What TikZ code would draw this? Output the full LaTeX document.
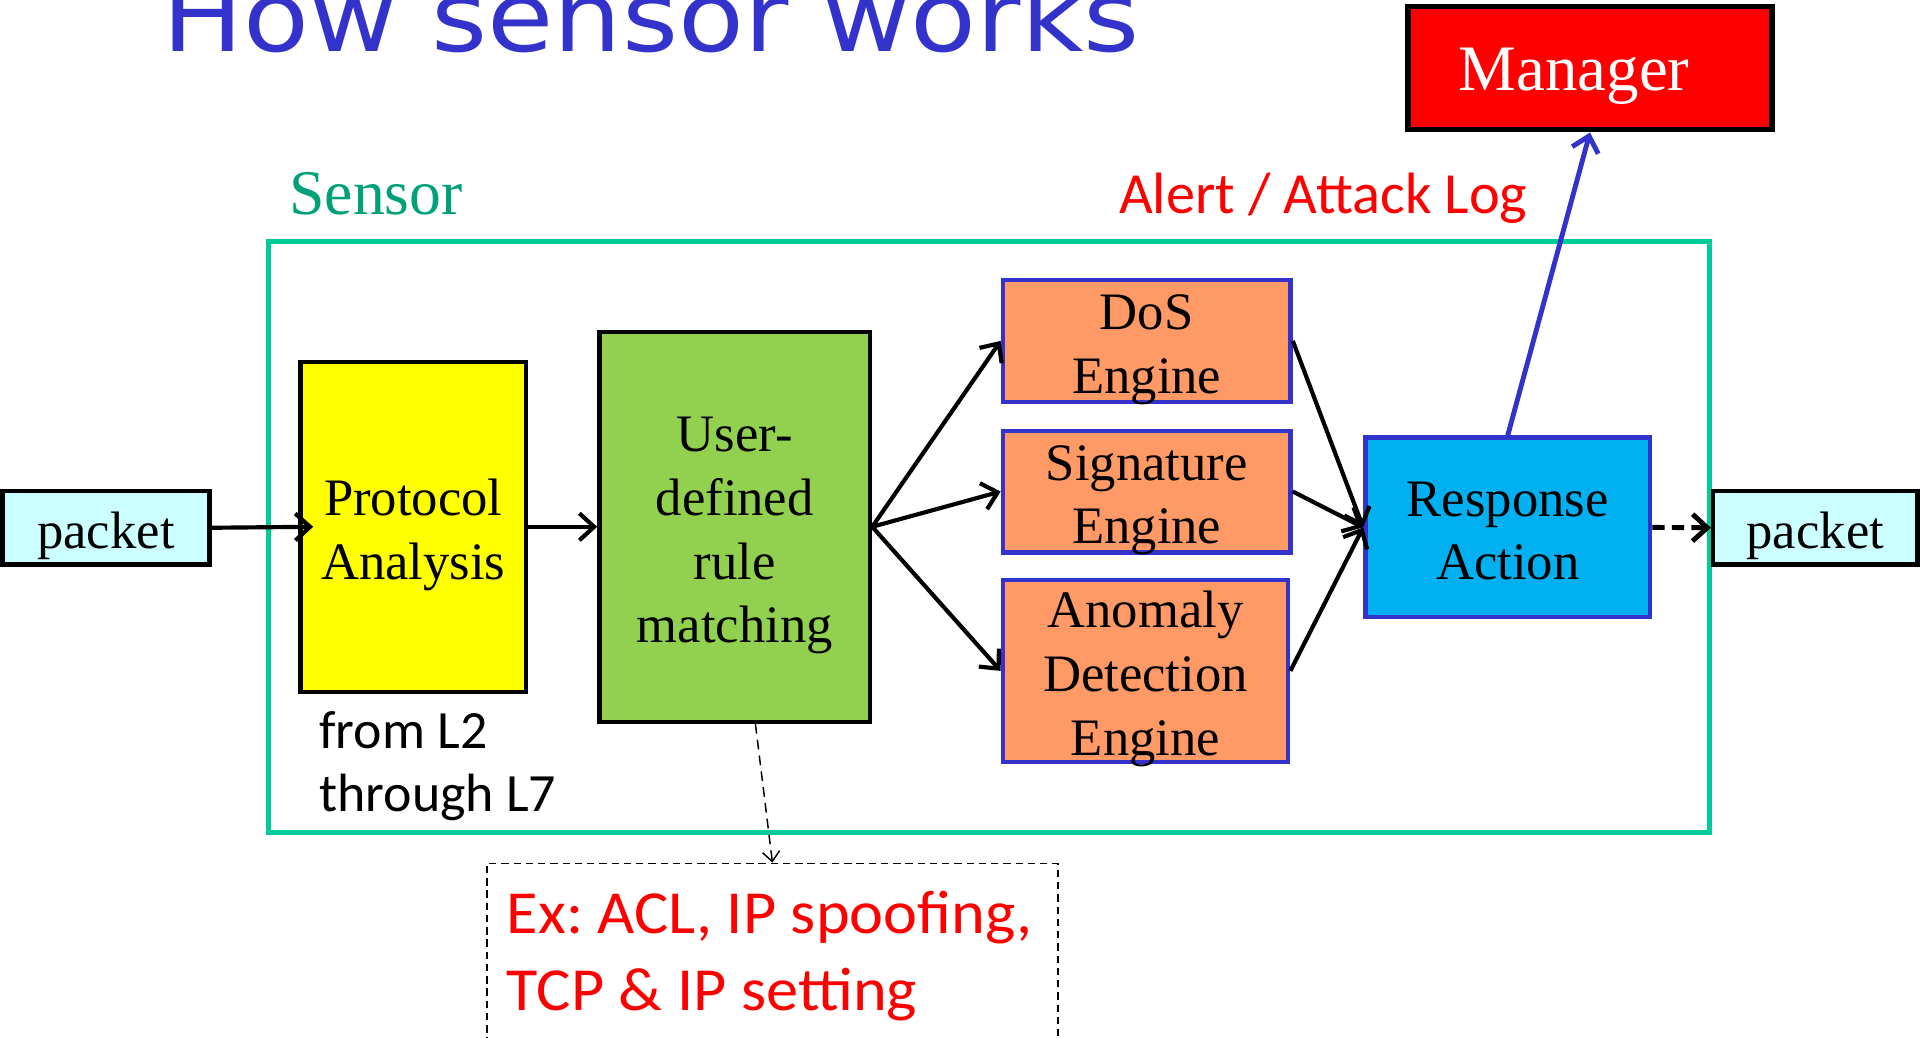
\documentclass[tikz,border=0pt]{standalone}
\usepackage{fontspec}
\setmainfont{Liberation Serif}
\newfontfamily\calibfont{Carlito}
\newfontfamily\widecalibfont{Carlito}[FakeStretch=1.05]
\newfontfamily\headfont{DejaVu Sans}[FakeStretch=1.1]
\usetikzlibrary{arrows.meta}
\frenchspacing

\definecolor{frameteal}{RGB}{0,204,153}
\definecolor{sensorteal}{RGB}{0,160,120}
\definecolor{headblue}{RGB}{51,51,204}
\definecolor{engorange}{RGB}{255,153,102}
\definecolor{rulegreen}{RGB}{146,208,80}
\definecolor{respcyan}{RGB}{0,176,240}
\definecolor{pktcyan}{RGB}{204,255,255}
\definecolor{boxyellow}{RGB}{255,255,0}

% centred lines of box text, lowered a little inside the box
\newcommand\boxlines[1]{\raisebox{-3.2pt}[\height][\depth]{%
  \begin{tabular}{@{}c@{}}#1\end{tabular}}}

\begin{document}
\begin{tikzpicture}[x=0.5pt,y=-0.5pt,
  blk/.style={draw, line width=1.8pt, inner xsep=0pt, inner ysep=-3pt,
              font=\fontsize{21.5}{26}\selectfont},
  engine/.style={blk, draw=headblue, fill=engorange},
  label/.style={anchor=base west, inner sep=0pt},
  conn/.style={line width=1.7pt, -{Straight Barb[length=6pt,width=11pt]}},
  hint/.style={line width=0.6pt, dash pattern=on 4pt off 2.5pt,
               -{Straight Barb[length=4pt,width=7pt]}}]

\clip (0,0) rectangle (1568,847);

% title
\node[label, text=headblue, font=\headfont\fontsize{40}{48}\selectfont]
  (title) at (132,42) {How sensor works};

% sensor frame and its captions
\node[draw=frameteal, line width=2pt, minimum width=588.2pt, minimum height=241.3pt]
  (frame) at (807.8,438.7) {};
\node[label, text=sensorteal, font=\fontsize{26}{30}\selectfont]
  (sensorlbl) at (236,175) {Sensor};
\node[label, text=red, font=\calibfont\fontsize{23.8}{28}\selectfont]
  (alertlbl) at (913.5,174) {Alert / Attack Log};

% packet in / out
\node[blk, fill=pktcyan, minimum width=84.5pt, minimum height=30pt]
  (pktL) at (86.5,431) {\boxlines{packet}};
\node[blk, fill=pktcyan, minimum width=83.5pt, minimum height=30pt]
  (pktR) at (1482.5,431) {\boxlines{packet}};

% processing stages
\node[blk, fill=boxyellow, minimum width=92pt, minimum height=134.8pt]
  (proto) at (337.5,430.2) {\boxlines{Protocol\\Analysis}};
\node[blk, fill=rulegreen, minimum width=110.5pt, minimum height=159.2pt]
  (user) at (600,430.2) {\boxlines{User-\\defined\\rule\\matching}};
\node[engine, minimum width=117.5pt, minimum height=49.65pt]
  (dos) at (936.5,278.4) {\boxlines{DoS\\Engine}};
\node[engine, minimum width=117.5pt, minimum height=49.65pt]
  (sig) at (936.5,401.4) {\boxlines{Signature\\Engine}};
\node[engine, minimum width=116.5pt, minimum height=74.15pt]
  (ano) at (935.5,547.9) {\boxlines{Anomaly\\Detection\\Engine}};
\node[blk, draw=headblue, fill=respcyan, minimum width=116.25pt, minimum height=73.3pt]
  (resp) at (1231.3,430.7) {\boxlines{Response\\Action}};
\node[blk, line width=2.2pt, fill=red, text=white, minimum width=148.5pt,
      minimum height=50.3pt, font=\fontsize{26.5}{30}\selectfont]
  (mgr) at (1298.5,55.7) {\boxlines{Manager}\hspace*{13pt}};

% layer note
\node[label, font=\calibfont\fontsize{22}{26}\selectfont] (lyr1) at (260.5,611) {from L2};
\node[label, font=\calibfont\fontsize{22}{26}\selectfont] (lyr2) at (260.5,663) {through L7};

% examples of user-defined rules
\node[draw, line width=0.6pt, dash pattern=on 3pt off 2pt,
      minimum width=233.2pt, minimum height=87.5pt]
  (exbox) at (630.8,792.5) {};
\node[label, text=red, font=\widecalibfont\fontsize{25}{30}\selectfont]
  (ex1) at (413.5,762) {Ex: ACL, IP spoofing,};
\node[label, text=red, font=\widecalibfont\fontsize{25}{30}\selectfont]
  (ex2) at (413.5,825) {TCP \& IP setting};

% flow
\draw[conn] (pktL.east) -- ([xshift=6pt]proto.west);
\draw[conn] (proto.east) -- (user.west);
\draw[conn] (user.east) -- (dos.west);
\draw[conn] (user.east) -- (sig.west);
\draw[conn] (user.east) -- (ano.west);
\draw[conn] (dos.east) -- (resp.west);
\draw[conn] (sig.east) -- (resp.west);
\draw[conn] (ano.east) -- (resp.west);
\draw[conn, line width=2pt, dash pattern=on 5pt off 3pt] (resp.east) -- (pktR.west);
\draw[conn, line width=2pt, draw=headblue] (resp.north) -- (mgr.south);
\draw[hint] (user.-84.3) -- (exbox.north);
\end{tikzpicture}
\end{document}
